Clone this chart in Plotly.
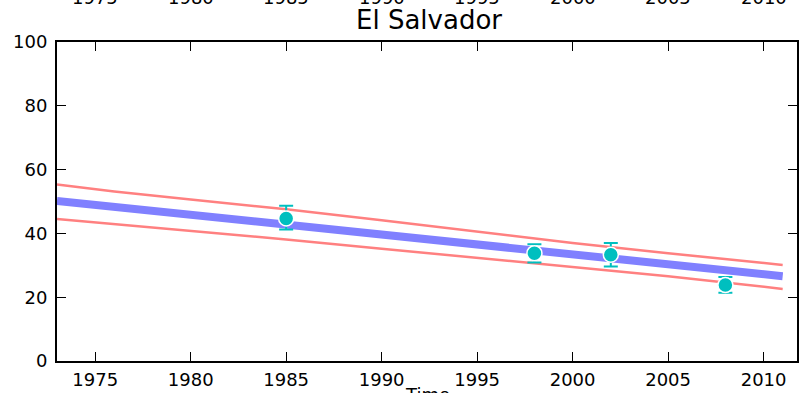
import plotly.graph_objects as go

# model curve (yearly estimate with uncertainty band)
years = [1973, 1976, 1980, 1985, 1990, 1995, 2000, 2005, 2011]
mean = [50.2, 48.3, 45.9, 42.9, 39.6, 36.5, 33.3, 30.3, 26.6]
upper = [55.3, 53.1, 50.6, 47.6, 44.1, 40.6, 37.0, 33.8, 30.1]
lower = [44.5, 42.9, 40.9, 38.1, 35.2, 32.3, 29.3, 26.6, 22.6]

# survey observations
obs_years = [1985, 1998, 2002, 2008]
obs_vals = [44.7, 33.8, 33.3, 23.8]
obs_hi = [48.7, 36.6, 37.0, 26.3]
obs_lo = [41.2, 30.9, 29.6, 21.4]

tick_years = [1975, 1980, 1985, 1990, 1995, 2000, 2005, 2010]

font = "DejaVu Sans"

fig = go.Figure()
fig.add_trace(go.Scatter(x=years, y=mean, mode="lines",
                         line=dict(color="#8080ff", width=8), showlegend=False))
fig.add_trace(go.Scatter(x=years, y=upper, mode="lines",
                         line=dict(color="#ff8080", width=2.5), showlegend=False))
fig.add_trace(go.Scatter(x=years, y=lower, mode="lines",
                         line=dict(color="#ff8080", width=2.5), showlegend=False))
fig.add_trace(go.Scatter(
    x=obs_years, y=obs_vals, mode="markers",
    marker=dict(color="#00bfbf", size=15, line=dict(color="white", width=1.5)),
    error_y=dict(type="data", symmetric=False,
                 array=[h - v for h, v in zip(obs_hi, obs_vals)],
                 arrayminus=[v - l for v, l in zip(obs_vals, obs_lo)],
                 color="#00bfbf", thickness=2, width=7),
    showlegend=False))

# tick labels of the panel above, cut by the frame
for yr in tick_years:
    fig.add_annotation(x=yr, y=1 + 44 / 319, xref="x", yref="paper",
                       text=str(yr), showarrow=False, yanchor="middle",
                       font=dict(family=font, size=18, color="black"))
# axis label, mostly cut off at the bottom
fig.add_annotation(x=0.5, y=-34 / 319, xref="paper", yref="paper",
                   text="Time", showarrow=False, yanchor="middle",
                   font=dict(family=font, size=18, color="black"))

fig.update_layout(
    width=801, height=393,
    margin=dict(l=57, r=2, t=42, b=32),
    paper_bgcolor="white", plot_bgcolor="white",
    title=dict(text="El Salvador", x=429 / 801, xanchor="center",
               y=1 - 20 / 393, yanchor="middle",
               font=dict(family=font, size=26, color="black")),
    font=dict(family=font, size=18, color="black"),
)
fig.update_xaxes(range=[1973, 2011.75], tickvals=tick_years, showgrid=False,
                 zeroline=False, showline=True, linecolor="black", linewidth=2,
                 mirror="allticks", ticks="inside", ticklen=9, tickcolor="black",
                 tickwidth=1, ticklabelstandoff=1)
fig.update_yaxes(range=[0, 100], tickvals=[0, 20, 40, 60, 80, 100], showgrid=False,
                 zeroline=False, showline=True, linecolor="black", linewidth=2,
                 mirror="allticks", ticks="inside", ticklen=9, tickcolor="black",
                 tickwidth=1, ticklabelstandoff=4)

# drop the default page margin so the figure fills the window
fig.write_html("out.html", config={"displayModeBar": False},
               post_script="document.body.style.margin='0';")
